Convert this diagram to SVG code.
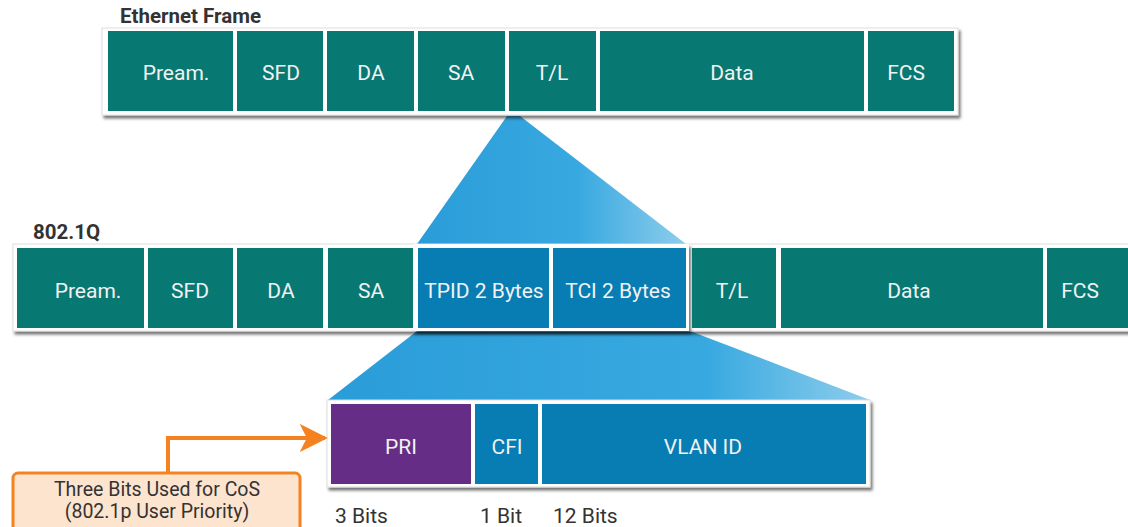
<svg xmlns="http://www.w3.org/2000/svg" width="1128" height="527" viewBox="0 0 1128 527">
<defs>
<linearGradient id="g1" x1="0" y1="0" x2="1" y2="0">
<stop offset="0" stop-color="#2A9CD8"/>
<stop offset="0.6" stop-color="#38A9E0"/>
<stop offset="1" stop-color="#8ECDEC"/>
</linearGradient>
<linearGradient id="g2" x1="0" y1="0" x2="1" y2="0">
<stop offset="0" stop-color="#2A9CD8"/>
<stop offset="0.7" stop-color="#38A9E0"/>
<stop offset="1" stop-color="#8ECDEC"/>
</linearGradient>
<filter id="sh" x="-5%" y="-20%" width="110%" height="140%">
<feDropShadow dx="2" dy="3" stdDeviation="1.5" flood-color="#000" flood-opacity="0.55"/>
</filter>
<marker id="ah" viewBox="0 0 10 10" refX="9" refY="5" markerWidth="7" markerHeight="7" markerUnits="strokeWidth" orient="auto">
<path d="M0,0 L10,5 L0,10 L2.5,5 z" fill="#F58220"/>
</marker>
</defs>
<style>
.frame{fill:#fff;stroke:#ddd;stroke-width:1;filter:url(#sh)}
.teal{fill:#087872}
.blue{fill:#077DB3}
.purple{fill:#652D86}
.ct{font-family:Roboto,"Liberation Sans",sans-serif;font-size:21px;fill:#f2f2f2;text-anchor:middle}
.title{font-family:Roboto,"Liberation Sans",sans-serif;font-size:20.5px;font-weight:bold;fill:#333}
.bits{font-family:Roboto,"Liberation Sans",sans-serif;font-size:21px;fill:#333}
.note{font-family:Roboto,"Liberation Sans",sans-serif;font-size:19.5px;fill:#333;text-anchor:middle}
</style>

<!-- expansion shapes -->
<g id="expansions">
<polygon points="507,116 417,244 686,244 520,116" fill="url(#g1)"/>
<polygon points="417,331 690,331 870,400 328,400" fill="url(#g2)"/>
</g>

<g id="ethernet-frame">
<text class="title" x="120" y="23">Ethernet Frame</text>
<rect class="frame" x="102" y="28" width="856" height="87"/>
<rect class="teal" x="108" y="31" width="125" height="80"/>
<text class="ct" x="176" y="80">Pream.</text>
<rect class="teal" x="237" y="31" width="86" height="80"/>
<text class="ct" x="281" y="80">SFD</text>
<rect class="teal" x="327" y="31" width="87" height="80"/>
<text class="ct" x="371" y="80">DA</text>
<rect class="teal" x="418" y="31" width="87" height="80"/>
<text class="ct" x="461" y="80">SA</text>
<rect class="teal" x="509" y="31" width="87" height="80"/>
<text class="ct" x="552" y="80">T/L</text>
<rect class="teal" x="600" y="31" width="264" height="80"/>
<text class="ct" x="732" y="80">Data</text>
<rect class="teal" x="868" y="31" width="86" height="80"/>
<text class="ct" x="906" y="80">FCS</text>
</g>

<g id="dot1q-frame">
<text class="title" x="33" y="239">802.1Q</text>
<rect class="frame" x="13" y="244" width="1130" height="87"/>
<rect class="teal" x="17" y="248" width="127" height="80"/>
<text class="ct" x="88" y="298">Pream.</text>
<rect class="teal" x="148" y="248" width="85" height="80"/>
<text class="ct" x="190" y="298">SFD</text>
<rect class="teal" x="237" y="248" width="86" height="80"/>
<text class="ct" x="281" y="298">DA</text>
<rect class="teal" x="328" y="248" width="85" height="80"/>
<text class="ct" x="371" y="298">SA</text>
<rect x="414" y="244" width="275" height="87" fill="#fff" filter="url(#sh)"/>
<rect class="blue" x="418" y="248" width="131" height="80"/>
<text class="ct" x="484" y="298">TPID 2 Bytes</text>
<rect class="blue" x="553" y="248" width="133" height="80"/>
<text class="ct" x="618" y="298">TCI 2 Bytes</text>
<rect class="teal" x="692" y="248" width="84" height="80"/>
<text class="ct" x="732" y="298">T/L</text>
<rect class="teal" x="781" y="248" width="262" height="80"/>
<text class="ct" x="909" y="298">Data</text>
<rect class="teal" x="1047" y="248" width="85" height="80"/>
<text class="ct" x="1080" y="298">FCS</text>
</g>

<g id="tci-fields">
<rect class="frame" x="327" y="400" width="543" height="87"/>
<rect class="purple" x="331" y="404" width="140" height="80"/>
<text class="ct" x="401" y="454">PRI</text>
<rect class="blue" x="475" y="404" width="63" height="80"/>
<text class="ct" x="507" y="454">CFI</text>
<rect class="blue" x="542" y="404" width="324" height="80"/>
<text class="ct" x="703" y="454">VLAN ID</text>
<text class="bits" x="335" y="523">3 Bits</text>
<text class="bits" x="480" y="523">1 Bit</text>
<text class="bits" x="553" y="523">12 Bits</text>
</g>

<g id="connectors">
<polyline points="168,473 168,438 325,438" fill="none" stroke="#F58220" stroke-width="4" marker-end="url(#ah)"/>
</g>

<g id="callout">
<rect x="13" y="473" width="287" height="60" rx="5" fill="#FDE4CF" stroke="#F58220" stroke-width="3"/>
<text class="note" x="157" y="496">Three Bits Used for CoS</text>
<text class="note" x="157" y="518">(802.1p User Priority)</text>
</g>
</svg>
